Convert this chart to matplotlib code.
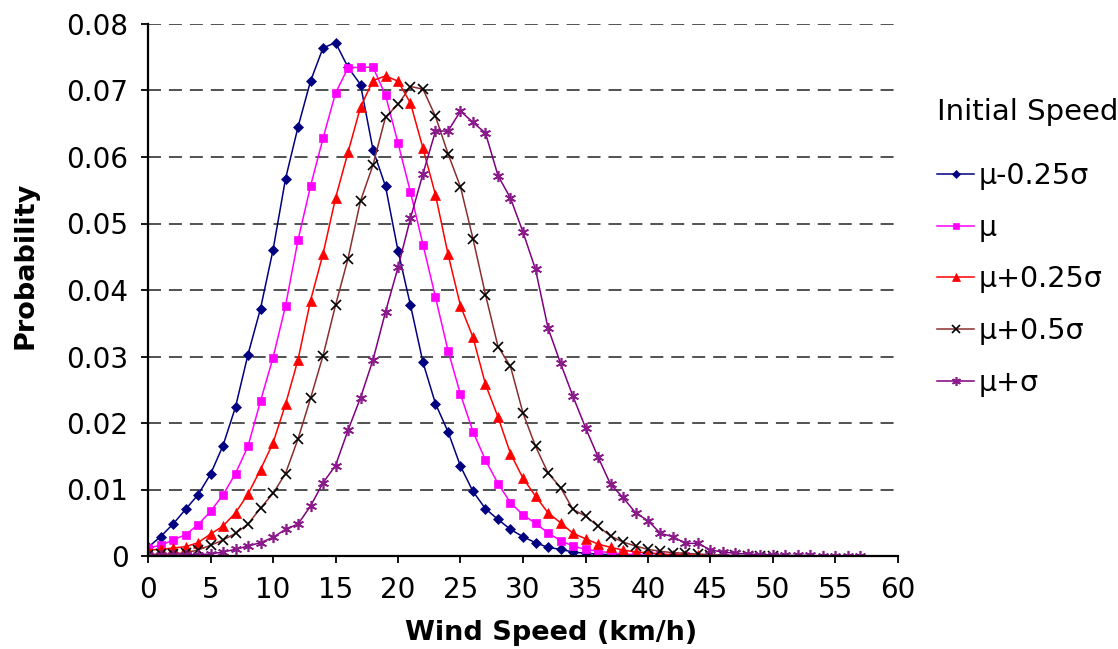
import matplotlib
matplotlib.use("Agg")
import matplotlib.pyplot as plt

plt.rcParams["font.family"] = ["DejaVu Sans"]

# ---- data ----
p_minus025 = [0.0013, 0.0029, 0.0048, 0.0070, 0.0092, 0.0123, 0.0166, 0.0224, 0.0303, 0.0372,
              0.0460, 0.0567, 0.0645, 0.0714, 0.0764, 0.0772, 0.0735, 0.0709, 0.0611, 0.0556,
              0.0459, 0.0377, 0.0291, 0.0229, 0.0187, 0.0135, 0.0097, 0.0071, 0.0055, 0.0040,
              0.0029, 0.0020, 0.0013, 0.0010, 0.0006, 0.0004, 0.0003, 0.0002, 0.0001, 0.0001,
              0.0000]
p_mu = [0.0012, 0.0016, 0.0024, 0.0032, 0.0047, 0.0067, 0.0092, 0.0124, 0.0165, 0.0233,
        0.0298, 0.0376, 0.0475, 0.0556, 0.0628, 0.0696, 0.0734, 0.0735, 0.0735, 0.0693,
        0.0621, 0.0547, 0.0468, 0.0389, 0.0309, 0.0243, 0.0187, 0.0144, 0.0109, 0.0080,
        0.0062, 0.0049, 0.0035, 0.0023, 0.0015, 0.0010, 0.0007, 0.0005, 0.0003, 0.0002,
        0.0001, 0.0001, 0.0000, 0.0000]
p_plus025 = [0.0009, 0.0010, 0.0012, 0.0014, 0.0020, 0.0033, 0.0045, 0.0065, 0.0093, 0.0130,
             0.0170, 0.0228, 0.0295, 0.0384, 0.0454, 0.0538, 0.0607, 0.0675, 0.0715, 0.0722,
             0.0714, 0.0681, 0.0613, 0.0543, 0.0454, 0.0376, 0.0329, 0.0258, 0.0209, 0.0154,
             0.0117, 0.0090, 0.0065, 0.0050, 0.0034, 0.0026, 0.0018, 0.0013, 0.0009, 0.0006,
             0.0005, 0.0003, 0.0002, 0.0002, 0.0001, 0.0001, 0.0001, 0.0000, 0.0000]
p_plus05 = [0.0002, 0.0003, 0.0003, 0.0005, 0.0009, 0.0016, 0.0024, 0.0034, 0.0048, 0.0072,
            0.0094, 0.0124, 0.0176, 0.0237, 0.0301, 0.0377, 0.0447, 0.0534, 0.0588, 0.0660,
            0.0679, 0.0706, 0.0702, 0.0661, 0.0605, 0.0555, 0.0477, 0.0393, 0.0315, 0.0285,
            0.0215, 0.0165, 0.0125, 0.0103, 0.0070, 0.0060, 0.0045, 0.0030, 0.0021, 0.0015,
            0.0010, 0.0007, 0.0005, 0.0004, 0.0003, 0.0002, 0.0001, 0.0001, 0.0000, 0.0000,
            0.0000]
p_plus1 = [0.0001, 0.0001, 0.0001, 0.0002, 0.0002, 0.0003, 0.0006, 0.0010, 0.0015, 0.0020,
           0.0028, 0.0040, 0.0048, 0.0075, 0.0110, 0.0136, 0.0189, 0.0238, 0.0295, 0.0367,
           0.0434, 0.0508, 0.0575, 0.0639, 0.0639, 0.0669, 0.0652, 0.0636, 0.0572, 0.0538,
           0.0487, 0.0431, 0.0343, 0.0290, 0.0240, 0.0193, 0.0149, 0.0108, 0.0088, 0.0065,
           0.0053, 0.0034, 0.0029, 0.0019, 0.0019, 0.0009, 0.0006, 0.0004, 0.0003, 0.0002,
           0.0002, 0.0001, 0.0001, 0.0001, 0.0000, 0.0000, 0.0000, 0.0000]

labels = ["\u03bc-0.25\u03c3", "\u03bc", "\u03bc+0.25\u03c3", "\u03bc+0.5\u03c3", "\u03bc+\u03c3"]
x_ticks = list(range(0, 61, 5))
y_ticks = [0, 0.01, 0.02, 0.03, 0.04, 0.05, 0.06, 0.07, 0.08]
y_ticklabels = ["0", "0.01", "0.02", "0.03", "0.04", "0.05", "0.06", "0.07", "0.08"]

W, H = 1118, 649
fig = plt.figure(figsize=(W / 100, H / 100), dpi=100)
ax = fig.add_axes([148 / W, 1 - 556 / H, 750 / W, 532 / H])

series = [p_minus025, p_mu, p_plus025, p_plus05, p_plus1]
styles = [
    dict(color="#000080", marker="D", ms=5, mfc="#000080", mec="#000080", mew=0.5),
    dict(color="#FF00FF", marker="s", ms=5.5, mfc="#FF00FF", mec="#FF00FF", mew=0.5),
    dict(color="#FF0000", marker="^", ms=7, mfc="#FF0000", mec="#FF0000", mew=0.5),
    dict(color="#8B2E2E", marker="x", ms=7, mfc="black", mec="black", mew=1.2),
    dict(color="#800080", marker=(6, 2, 0), ms=8, mfc="#8B1A8B", mec="#8B1A8B", mew=1.2),
]
for vals, lab, st in zip(series, labels, styles):
    ax.plot(range(len(vals)), vals, lw=1.1, label=lab, **st)

ax.set_xlim(0, 60)
ax.set_ylim(0, 0.08)
ax.set_xticks(x_ticks)
ax.set_yticks(y_ticks)
ax.set_yticklabels(y_ticklabels)
ax.tick_params(axis="both", labelsize=20, length=5, width=1.3, direction="out", color="black")
ax.tick_params(axis="y", pad=9)
ax.tick_params(axis="x", pad=9.5)

for yv in y_ticks[1:]:
    ax.axhline(yv, color="#222222", lw=1.1, dashes=(8.5, 5.2), zorder=0)

for s in ["top", "right"]:
    ax.spines[s].set_visible(False)
for s in ["left", "bottom"]:
    ax.spines[s].set_linewidth(1.6)
    ax.spines[s].set_color("black")

fig.text(26 / W, 1 - 265 / H, "Probability", rotation=90, ha="center", va="center",
         fontsize=19.5, fontweight="bold")
fig.text(551 / W, 1 - 633 / H, "Wind Speed (km/h)", ha="center", va="center",
         fontsize=19.5, fontweight="bold")

fig.text(937 / W, 1 - 112 / H, "Initial Speed", ha="left", va="center", fontsize=21)

leg = fig.legend(loc="upper left", bbox_to_anchor=(937 / W, 1 - 162 / H),
                 frameon=False, fontsize=20.5, borderpad=0, borderaxespad=0,
                 handlelength=1.3, handletextpad=0.15, labelspacing=0.83, markerscale=0.8)
for line in leg.get_lines():
    line.set_linewidth(1.1)

fig.savefig("out.png", dpi=100)
